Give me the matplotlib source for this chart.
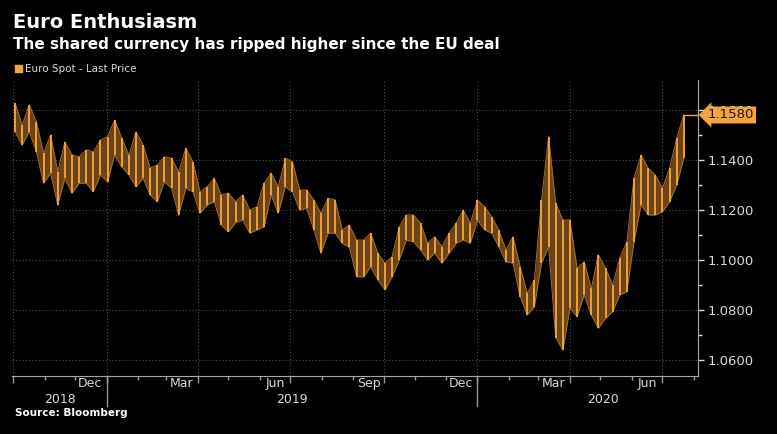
import datetime as dt
import numpy as np
import matplotlib
matplotlib.use("Agg")
import matplotlib.pyplot as plt
import matplotlib.dates as mdates
import matplotlib.transforms as mtransforms
from matplotlib.lines import Line2D
from matplotlib.patches import Rectangle

# maximos / minimos semanales del EURUSD (semanas desde el lunes 1-oct-2018)
primera_semana = dt.date(2018, 10, 1)
maximos = [1.1627, 1.1540, 1.1620, 1.1553, 1.1427, 1.1500, 1.1353, 1.1473, 1.1420, 1.1413,
           1.1440, 1.1433, 1.1480, 1.1493, 1.1560, 1.1487, 1.1420, 1.1513, 1.1460, 1.1367,
           1.1380, 1.1413, 1.1407, 1.1353, 1.1447, 1.1393, 1.1273, 1.1293, 1.1327, 1.1260,
           1.1267, 1.1233, 1.1260, 1.1200, 1.1213, 1.1307, 1.1347, 1.1293, 1.1407, 1.1393,
           1.1280, 1.1280, 1.1240, 1.1187, 1.1247, 1.1240, 1.1120, 1.1140, 1.1080, 1.1080,
           1.1107, 1.1027, 1.0987, 1.1013, 1.1133, 1.1180, 1.1180, 1.1147, 1.1067, 1.1093,
           1.1053, 1.1107, 1.1147, 1.1200, 1.1147, 1.1240, 1.1213, 1.1173, 1.1120, 1.1040,
           1.1093, 1.0973, 1.0867, 1.0920, 1.1240, 1.1493, 1.1227, 1.1160, 1.1160, 1.0967,
           1.0993, 1.0887, 1.1020, 1.0967, 1.0900, 1.1007, 1.1073, 1.1327, 1.1420, 1.1367,
           1.1340, 1.1287, 1.1367, 1.1487, 1.1580]
minimos = [1.1513, 1.1460, 1.1513, 1.1433, 1.1307, 1.1347, 1.1220, 1.1327, 1.1267, 1.1307,
           1.1307, 1.1273, 1.1340, 1.1313, 1.1420, 1.1373, 1.1340, 1.1293, 1.1327, 1.1260,
           1.1233, 1.1313, 1.1287, 1.1180, 1.1287, 1.1273, 1.1187, 1.1220, 1.1233, 1.1140,
           1.1113, 1.1150, 1.1160, 1.1107, 1.1120, 1.1133, 1.1260, 1.1187, 1.1293, 1.1273,
           1.1200, 1.1207, 1.1120, 1.1027, 1.1107, 1.1107, 1.1067, 1.1050, 1.0933, 1.0933,
           1.0973, 1.0920, 1.0880, 1.0933, 1.1000, 1.1080, 1.1073, 1.1040, 1.1000, 1.1027,
           1.0987, 1.1027, 1.1067, 1.1080, 1.1067, 1.1160, 1.1120, 1.1107, 1.1053, 1.0993,
           1.0987, 1.0853, 1.0780, 1.0813, 1.0987, 1.1053, 1.0690, 1.0640, 1.0807, 1.0773,
           1.0860, 1.0780, 1.0727, 1.0767, 1.0793, 1.0860, 1.0873, 1.1073, 1.1220, 1.1180,
           1.1180, 1.1193, 1.1233, 1.1300, 1.1407]
ultimo_precio = 1.1580
ultima_fecha = dt.date(2020, 7, 21)

meses_etiqueta = [dt.date(2018, 12, 16), dt.date(2019, 3, 16), dt.date(2019, 6, 16), dt.date(2019, 9, 16),
                  dt.date(2019, 12, 16), dt.date(2020, 3, 16), dt.date(2020, 6, 16)]
nombres_meses = ['Dec', 'Mar', 'Jun', 'Sep', 'Dec', 'Mar', 'Jun']
anios = ['2018', '2019', '2020']
centros_anios = [dt.date(2018, 11, 16), dt.date(2019, 7, 2), dt.date(2020, 5, 4)]
cortes_anios = [dt.date(2019, 1, 1), dt.date(2020, 1, 1)]

naranja = '#eea03c'
naranja_osc = '#6a4317'
gris_txt = '#d9d9d9'
narrow = ['Liberation Sans Narrow', 'DejaVu Sans']

fig = plt.figure(figsize=(7.77, 4.34), dpi=100, facecolor='black')
ax = fig.add_axes([12 / 777, 1 - 376 / 434, 686 / 777, 296 / 434])
ax.set_facecolor('black')

fechas = [primera_semana + dt.timedelta(days=7 * i + 2) for i in range(len(maximos))]
x = mdates.date2num(fechas)
ax.fill_between(x, minimos, maximos, color=naranja_osc, linewidth=0, zorder=2)
ax.vlines(x, minimos, maximos, color=naranja, lw=1.4, zorder=2.2)
ax.plot(x, maximos, color='#a86e28', lw=0.7, zorder=2.1)
ax.plot(x, minimos, color='#a86e28', lw=0.7, zorder=2.1)

x_fin = mdates.date2num(dt.date(2020, 8, 5))
ax.plot([mdates.date2num(ultima_fecha), x_fin], [ultimo_precio, ultimo_precio], color=naranja, lw=1)

ax.set_xlim(mdates.date2num(dt.date(2018, 9, 30)), x_fin)
ax.set_ylim(1.0536, 1.1720)

# ticks
trimestres = [dt.date(2018, 10, 1), dt.date(2019, 1, 1), dt.date(2019, 4, 1), dt.date(2019, 7, 1),
              dt.date(2019, 10, 1), dt.date(2020, 1, 1), dt.date(2020, 4, 1), dt.date(2020, 7, 1)]
ax.set_xticks(mdates.date2num(trimestres))
ax.set_xticklabels([])
ax.xaxis.set_minor_locator(mdates.MonthLocator())
ax.set_yticks(np.arange(1.06, 1.161, 0.02))
ax.set_yticks(np.arange(1.07, 1.161, 0.02), minor=True)
ax.yaxis.set_major_formatter(matplotlib.ticker.FormatStrFormatter('%.4f'))
ax.yaxis.tick_right()
ax.tick_params(axis='y', which='major', length=4, width=1, colors=gris_txt, labelsize=9.5, pad=3)
ax.tick_params(axis='y', which='minor', length=3, width=1, colors=gris_txt)
ax.tick_params(axis='x', which='major', length=5, width=1, colors='#9a9a9a')
ax.tick_params(axis='x', which='minor', length=3, width=1, colors='#9a9a9a')
for lab in ax.get_yticklabels():
    lab.set_fontfamily(narrow)

ax.grid(True, which='major', color='#505050', linestyle=(0, (1, 2)), linewidth=0.8)
ax.set_axisbelow(True)
for s in ['top', 'left']:
    ax.spines[s].set_visible(False)
ax.spines['right'].set_color('#a8a8a8')
ax.spines['bottom'].set_color('#a8a8a8')

trans = mtransforms.blended_transform_factory(ax.transData, ax.transAxes)
for f, n in zip(meses_etiqueta, nombres_meses):
    ax.text(mdates.date2num(f), -0.026, n, transform=trans, ha='center', va='center',
            color=gris_txt, fontsize=9, family=narrow)
for f, n in zip(centros_anios, anios):
    ax.text(mdates.date2num(f), -0.08, n, transform=trans, ha='center', va='center',
            color=gris_txt, fontsize=9, family=narrow)
for f in cortes_anios:
    ax.add_line(Line2D([mdates.date2num(f)] * 2, [0, -0.1], transform=trans, color='#9a9a9a',
                       lw=1, clip_on=False))

ax.annotate('%.4f' % ultimo_precio, xy=(1, ultimo_precio), xycoords=('axes fraction', 'data'),
            xytext=(7, 0), textcoords='offset points', ha='left', va='center', fontsize=9.5,
            family=narrow, color='#1a1a1a',
            bbox=dict(boxstyle='larrow,pad=0.15', fc='#f5a33b', ec='none'), zorder=5)

# textos
fig.text(13 / 777, 1 - 28 / 434, 'Euro Enthusiasm', color='white', fontsize=14, fontweight='bold',
         va='baseline')
fig.text(13 / 777, 1 - 49 / 434, 'The shared currency has ripped higher since the EU deal',
         color='white', fontsize=11, fontweight='bold', va='baseline')
fig.add_artist(Rectangle((15 / 777, 1 - 72 / 434), 7 / 777, 7 / 434, transform=fig.transFigure,
                         color='#f5a33b'))
fig.text(25 / 777, 1 - 69 / 434, 'Euro Spot - Last Price', color=gris_txt, fontsize=7.5,
         va='center', family=narrow)
fig.text(15 / 777, 1 - 413 / 434, 'Source: Bloomberg', color='white', fontsize=7.5,
         fontweight='bold', va='center')

fig.savefig('out.png', dpi=100, facecolor='black')
